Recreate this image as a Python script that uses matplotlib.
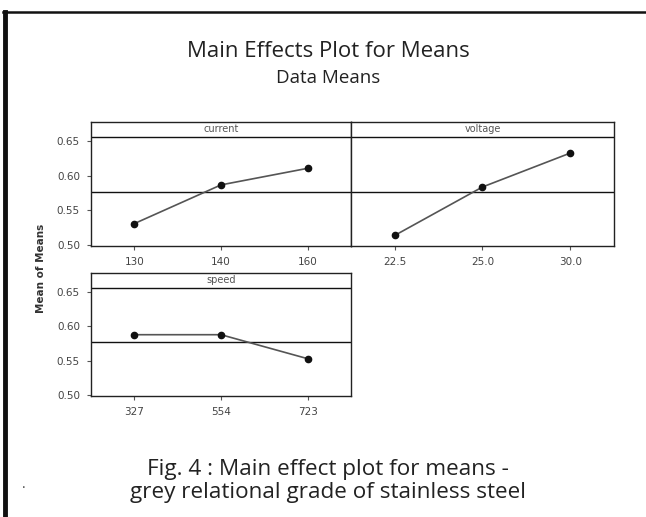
import matplotlib
matplotlib.use("Agg")
import matplotlib.pyplot as plt
from matplotlib.lines import Line2D

# main effect means
factors = ["current", "voltage", "speed"]
levels = {
    "current": ["130", "140", "160"],
    "voltage": ["22.5", "25.0", "30.0"],
    "speed": ["327", "554", "723"],
}
means = {
    "current": [0.531, 0.587, 0.611],
    "voltage": [0.514, 0.584, 0.633],
    "speed": [0.588, 0.588, 0.553],
}
overall_mean = 0.577
y_ticks = [0.50, 0.55, 0.60, 0.65]

W, H = 646, 517
plt.rcParams["font.family"] = ["Open Sans", "DejaVu Sans"]
fig = plt.figure(figsize=(W / 100, H / 100), dpi=100)


def px_axes(x0, y0, x1, y1):
    # pixel box (top-left origin) -> figure axes
    return fig.add_axes([x0 / W, 1 - y1 / H, (x1 - x0) / W, (y1 - y0) / H])


# panel boxes in pixels: x0, y0, x1, y1
boxes = {
    "current": (91, 122, 351, 246),
    "voltage": (351, 122, 614, 246),
    "speed": (91, 273, 351, 396),
}
strip_y = 0.6565

for name in factors:
    ax = px_axes(*boxes[name])
    x = list(range(len(levels[name])))
    ax.plot(x, means[name], color="#555555", lw=1.2, marker="o", ms=4.5,
            mfc="#111111", mec="#111111", zorder=3)
    ax.axhline(overall_mean, color="#111111", lw=1.0)
    ax.axhline(strip_y, color="#111111", lw=1.0)
    ax.text(0.5, (strip_y + 0.678) / 2, name, transform=ax.get_yaxis_transform(),
            ha="center", va="center", fontsize=7, color="#555555",
            family="DejaVu Sans")
    ax.set_xlim(-0.5, 2.5)
    ax.set_ylim(0.4986, 0.678)
    ax.set_xticks(x)
    ax.set_xticklabels(levels[name])
    if name == "voltage":
        ax.set_yticks([])
    else:
        ax.set_yticks(y_ticks)
        ax.set_yticklabels([f"{v:.2f}" for v in y_ticks])
    ax.tick_params(length=3, width=0.8, color="#555555", labelsize=7.5,
                   labelcolor="#444444", pad=5)
    for lab in ax.get_xticklabels() + ax.get_yticklabels():
        lab.set_family("DejaVu Sans")
    for sp in ax.spines.values():
        sp.set_color("#222222")
        sp.set_linewidth(1.0)

fig.text(41 / W, 1 - 268 / H, "Mean of Means", rotation=90, ha="center",
         va="center", fontsize=7.5, fontweight="bold", color="#333333",
         family="DejaVu Sans")

fig.text(328 / W, 1 - 57 / H, "Main Effects Plot for Means", ha="center",
         va="baseline", fontsize=16, color="#222222")
fig.text(328 / W, 1 - 83 / H, "Data Means", ha="center", va="baseline",
         fontsize=13.5, color="#222222")

fig.text(328 / W, 1 - 475 / H, "Fig. 4 : Main effect plot for means -",
         ha="center", va="baseline", fontsize=16.2, color="#222222")
fig.text(328 / W, 1 - 498 / H, "grey relational grade of stainless steel",
         ha="center", va="baseline", fontsize=16.2, color="#222222")
fig.text(24 / W, 1 - 488 / H, ".", ha="center", va="baseline", fontsize=10,
         color="#444444")

# page frame
fig.add_artist(Line2D([5 / W, 5 / W], [0, 1 - 12 / H], color="#111111", lw=3.5))
fig.add_artist(Line2D([3 / W, 1], [1 - 12 / H, 1 - 12 / H], color="#111111", lw=1.8))

fig.savefig("out.png", dpi=100)
